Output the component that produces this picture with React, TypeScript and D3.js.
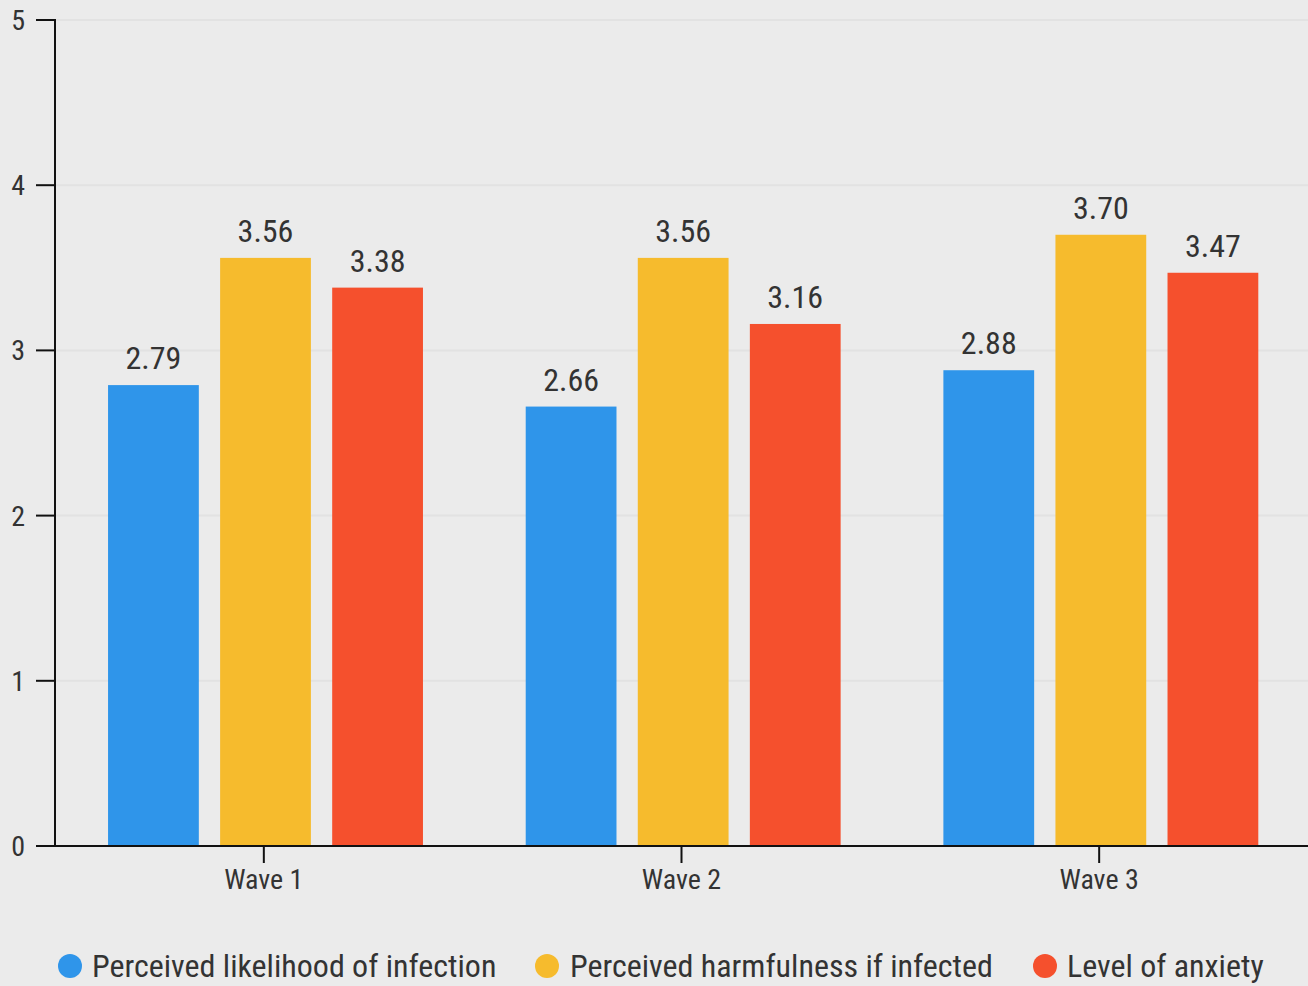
import React from "react";
import * as d3 from "d3";

const waves = ["Wave 1", "Wave 2", "Wave 3"];
const seriesNames = [
  "Perceived likelihood of infection",
  "Perceived harmfulness if infected",
  "Level of anxiety",
];
const likelihood = [2.79, 2.66, 2.88];
const harmfulness = [3.56, 3.56, 3.7];
const anxiety = [3.38, 3.16, 3.47];
const yTicks = [0, 1, 2, 3, 4, 5];
const colors = ["#2F95EA", "#F6BB2D", "#F5502D"];

const W = 1308;
const H = 986;
const FONT = "'Roboto Condensed', 'Liberation Sans Narrow', Roboto, sans-serif";
const TXT = "#333333";

function CText({ x, y, size, anchor = "middle", children, fill = TXT }: any) {
  return (
    <text x={x} y={y} fontFamily={FONT} fontSize={size} textAnchor={anchor} fill={fill}>
      {children}
    </text>
  );
}

export default function App() {
  const left = 55;
  const right = 1308;
  const top = 20;
  const bottom = 846;
  const y = d3.scaleLinear().domain([0, 5]).range([bottom, top]);
  const x0 = d3.scaleBand<string>().domain(waves).range([left, right]).padding(0);
  const bw = x0.bandwidth();
  const x1 = d3
    .scaleBand<string>()
    .domain(seriesNames)
    .range([bw * 0.127, bw * 0.881])
    .paddingInner(0.19)
    .paddingOuter(0);
  const series = [likelihood, harmfulness, anxiety];

  const legendItems = [
    { cx: 70, tx: 92 },
    { cx: 547, tx: 570 },
    { cx: 1045, tx: 1067 },
  ];

  return (
    <svg
      width={W}
      height={H}
      style={{ position: "absolute", left: 0, top: 0, display: "block", background: "#EBEBEB" }}
    >
      <rect x={0} y={0} width={W} height={H} fill="#EBEBEB" />
      {yTicks.map((t) => (
        <g key={t}>
          {t > 0 && (
            <line x1={left} x2={right} y1={y(t)} y2={y(t)} stroke="#E2E2E2" strokeWidth={2} />
          )}
          <line x1={36} x2={left} y1={y(t)} y2={y(t)} stroke="#111" strokeWidth={2} />
          <CText x={25} y={y(t) + 10} size={28} anchor="end">
            {t}
          </CText>
        </g>
      ))}
      {waves.map((w, i) => (
        <g key={w} transform={`translate(${x0(w)},0)`}>
          {seriesNames.map((s, j) => {
            const v = series[j][i];
            const bx = x1(s)!;
            return (
              <g key={s}>
                <rect
                  x={bx}
                  y={y(v)}
                  width={x1.bandwidth()}
                  height={bottom - y(v)}
                  fill={colors[j]}
                />
                <CText x={bx + x1.bandwidth() / 2} y={y(v) - 16} size={32}>
                  {d3.format(".2f")(v)}
                </CText>
              </g>
            );
          })}
        </g>
      ))}
      <line x1={left} x2={left} y1={top - 1} y2={bottom} stroke="#111" strokeWidth={2} />
      <line x1={36} x2={right} y1={bottom} y2={bottom} stroke="#111" strokeWidth={2} />
      {waves.map((w) => {
        const cx = x0(w)! + bw / 2;
        return (
          <g key={w}>
            <line x1={cx} x2={cx} y1={bottom} y2={bottom + 17} stroke="#111" strokeWidth={2} />
            <CText x={cx} y={889} size={28}>
              {w}
            </CText>
          </g>
        );
      })}
      {seriesNames.map((s, j) => (
        <g key={s}>
          <circle cx={legendItems[j].cx} cy={966} r={12} fill={colors[j]} />
          <CText x={legendItems[j].tx} y={977} size={32} anchor="start">
            {s}
          </CText>
        </g>
      ))}
    </svg>
  );
}
